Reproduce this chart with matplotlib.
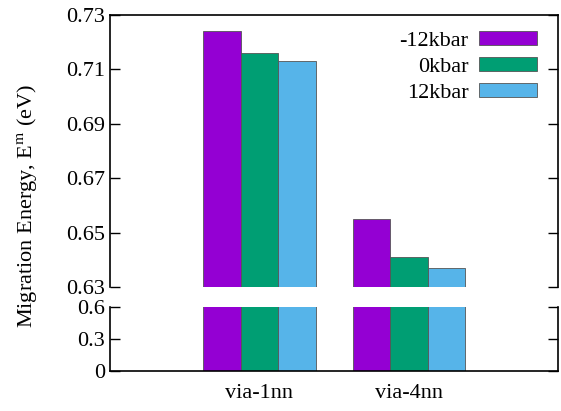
import numpy as np
import matplotlib.pyplot as plt
import matplotlib as mpl

mpl.rcParams['font.family'] = ['Liberation Serif', 'DejaVu Serif']
mpl.rcParams['font.size'] = 16
mpl.rcParams['mathtext.fontset'] = 'stix'

paths = ['via-1nn', 'via-4nn']
series = ['-12kbar', '0kbar', '12kbar']
energy_m12 = [0.724, 0.655]
energy_0 = [0.716, 0.641]
energy_p12 = [0.713, 0.637]
colors = ['#9400D3', '#009E73', '#56B4E9']

values = [energy_m12, energy_0, energy_p12]
x = np.arange(1, len(paths) + 1)
width = 0.25

fig = plt.figure(figsize=(5.61, 4.11), dpi=100)
ax_top = fig.add_axes([0.196, 0.3017, 0.7995, 0.6618])
ax_bot = fig.add_axes([0.196, 0.0973, 0.7995, 0.1557])

for ax in (ax_top, ax_bot):
    for i, (vals, c) in enumerate(zip(values, colors)):
        ax.bar(x + (i - 1) * width, vals, width, color=c, edgecolor='#555555',
               linewidth=0.6, label=series[i])
    ax.set_xlim(0, 3)
    ax.tick_params(axis='y', direction='in', length=7, width=1,
                   left=True, right=True, labelsize=16)
    for s in ax.spines.values():
        s.set_linewidth(1.2)

# top part of the broken axis
ax_top.set_ylim(0.63, 0.73)
ax_top.set_yticks([0.63, 0.65, 0.67, 0.69, 0.71, 0.73])
ax_top.set_yticklabels(['0.63', '0.65', '0.67', '0.69', '0.71', '0.73'])
ax_top.spines['bottom'].set_visible(False)
ax_top.tick_params(axis='x', bottom=False, labelbottom=False)

# bottom part
ax_bot.set_ylim(0, 0.6)
ax_bot.set_yticks([0, 0.3, 0.6])
ax_bot.set_yticklabels(['0', '0.3', '0.6'])
ax_bot.spines['top'].set_visible(False)
ax_bot.set_xticks(x)
ax_bot.set_xticklabels(paths)
ax_bot.tick_params(axis='x', length=0, pad=9, labelsize=16)

ax_top.legend(loc='upper right', frameon=False, markerfirst=False,
              handlelength=2.6, handleheight=0.57, labelspacing=0.28,
              handletextpad=0.5, borderaxespad=0.5, fontsize=16,
              bbox_to_anchor=(0.997, 1.013))

fig.text(0.048, 0.5, r'Migration Energy, E$^{\mathrm{m}}$ (eV)', rotation=90,
         ha='center', va='center', fontsize=16)

fig.savefig('out.png', dpi=100)
